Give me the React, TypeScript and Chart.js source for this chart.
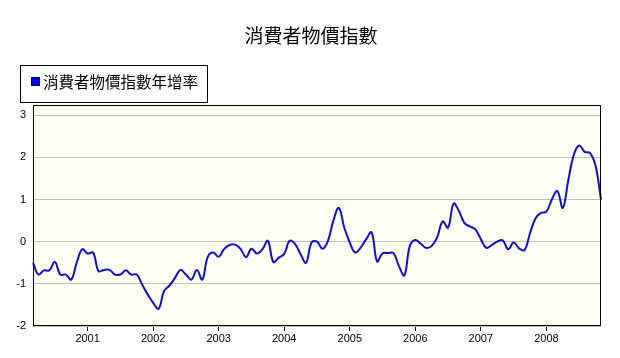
import React, { useEffect, useRef } from 'react';
import { Chart, registerables } from 'chart.js';

Chart.register(...registerables);

// Monthly data: March 2000 .. November 2008
const START_YEAR = 2000;
const START_MONTH = 3;

const cpiYoY: number[] = [
  -0.5, -0.78, -0.68, -0.68, -0.48, -0.78, -0.78, -0.9, -0.5, -0.18,
  -0.28, -0.26, -0.7, -0.67, -0.67, -0.78, -0.78, -0.68, -0.78, -0.78, -1.02, -1.25,
  -1.45, -1.59, -1.17, -1.04, -0.86, -0.67, -0.78, -0.9, -0.67, -0.9, -0.36, -0.26,
  -0.36, -0.17, -0.08, -0.07, -0.17, -0.37, -0.17, -0.28, -0.18, 0.02, -0.48, -0.38,
  -0.29, 0.02, -0.06, -0.3, -0.5, -0.02, 0.0, -0.17, 0.02, 0.5, 0.8, 0.33,
  -0.02, -0.26, -0.14, 0.06, 0.22, -0.47, -0.28, -0.27, -0.27, -0.58, -0.8, -0.1,
  0.04, -0.05, -0.15, -0.1, 0.1, 0.48, 0.33, 0.9, 0.72, 0.44, 0.36, 0.29,
  0.06, -0.15, -0.08, 0.0, 0.03, -0.18, -0.02, -0.16, -0.2, 0.2, 0.55, 0.68,
  0.71, 1.0, 1.2, 0.8, 1.45, 2.05, 2.28, 2.13, 2.1, 1.8, 1.0,
];

const monthLabels: string[] = cpiYoY.map((_, i) => {
  const m = START_MONTH - 1 + i;
  const y = START_YEAR + Math.floor(m / 12);
  const mm = (m % 12) + 1;
  return `${y}-${mm < 10 ? '0' + mm : mm}`;
});

const yTickValues = [-2, -1, 0, 1, 2, 3];
const Y_MIN = -2;
const Y_MAX = 3.24;

const TITLE = '消費者物價指數';
const SERIES_NAME = '消費者物價指數年增率';

const CJK = '"Noto Sans CJK TC", "Noto Sans CJK SC", sans-serif';
const LATIN = '"Liberation Sans", Arial, sans-serif';

const decorPlugin = {
  id: 'decor',
  beforeDraw(chart: any) {
    const { ctx, chartArea: a } = chart;
    ctx.save();
    ctx.fillStyle = '#fffef3';
    ctx.fillRect(a.left, a.top, a.right - a.left, a.bottom - a.top);
    ctx.restore();
  },
  afterDraw(chart: any) {
    const { ctx, chartArea: a } = chart;
    ctx.save();
    // plot border
    ctx.strokeStyle = '#000';
    ctx.lineWidth = 1;
    const l = Math.round(a.left) + 0.5;
    const t = Math.round(a.top) + 0.5;
    const r = Math.round(a.right) - 0.5;
    const b = Math.round(a.bottom) - 0.5;
    ctx.strokeRect(l, t, r - l, b - t);

    // title
    ctx.fillStyle = '#000';
    ctx.font = `19px ${CJK}`;
    ctx.textAlign = 'center';
    ctx.textBaseline = 'middle';
    ctx.fillText(TITLE, 311, 36);

    // legend box
    ctx.fillStyle = '#ffffff';
    ctx.fillRect(20, 65, 188, 37);
    ctx.strokeStyle = '#000';
    ctx.strokeRect(20.5, 65.5, 187, 37);
    ctx.fillStyle = '#0000ff';
    ctx.fillRect(31, 77, 9, 9);
    ctx.strokeStyle = '#000060';
    ctx.strokeRect(31.5, 77.5, 8, 8);
    ctx.fillStyle = '#000';
    ctx.font = `15.5px ${CJK}`;
    ctx.textAlign = 'left';
    ctx.textBaseline = 'middle';
    ctx.fillText(SERIES_NAME, 43, 82);
    ctx.restore();
  },
};

export default function App() {
  const canvasRef = useRef<HTMLCanvasElement | null>(null);

  useEffect(() => {
    const canvas = canvasRef.current;
    if (!canvas) return;
    const chart = new Chart(canvas, {
      type: 'line',
      data: {
        labels: monthLabels,
        datasets: [
          {
            label: SERIES_NAME,
            data: cpiYoY,
            borderColor: '#1010cc',
            backgroundColor: '#0000ff',
            borderWidth: 2,
            pointRadius: 0,
            tension: 0.4,
            fill: false,
          },
        ],
      },
      options: {
        responsive: false,
        animation: false,
        devicePixelRatio: 1,
        layout: { padding: { top: 105, left: 8, right: 19, bottom: 6 } },
        plugins: {
          legend: { display: false },
          title: { display: false },
          tooltip: { enabled: false },
        },
        scales: {
          x: {
            type: 'category',
            offset: false,
            afterFit: (s: any) => {
              s.height = 26;
            },
            grid: {
              display: true,
              drawOnChartArea: false,
              drawTicks: true,
              tickLength: 5,
              color: '#000',
            },
            border: { display: false },
            ticks: {
              autoSkip: false,
              maxRotation: 0,
              minRotation: 0,
              padding: 1,
              color: '#000',
              font: { family: LATIN, size: 11 },
              callback: (_v: any, idx: number) => {
                const lab = monthLabels[idx];
                return lab.endsWith('-01') ? lab.slice(0, 4) : null;
              },
            },
          },
          y: {
            min: Y_MIN,
            max: Y_MAX,
            afterFit: (s: any) => {
              s.width = 25;
            },
            afterBuildTicks: (s: any) => {
              s.ticks = yTickValues.map((v) => ({ value: v }));
            },
            grid: {
              color: '#c0c0c0',
              drawTicks: false,
            },
            border: { display: false },
            ticks: {
              padding: 7,
              color: '#000',
              font: { family: LATIN, size: 11 },
              callback: (v: any) => String(v),
            },
          },
        },
      },
      plugins: [decorPlugin],
    });
    return () => chart.destroy();
  }, []);

  return (
    <div style={{ position: 'absolute', left: 0, top: 0, width: 620, height: 358, background: '#fff' }}>
      <canvas ref={canvasRef} width={620} height={358} style={{ width: 620, height: 358, display: 'block' }} />
    </div>
  );
}
